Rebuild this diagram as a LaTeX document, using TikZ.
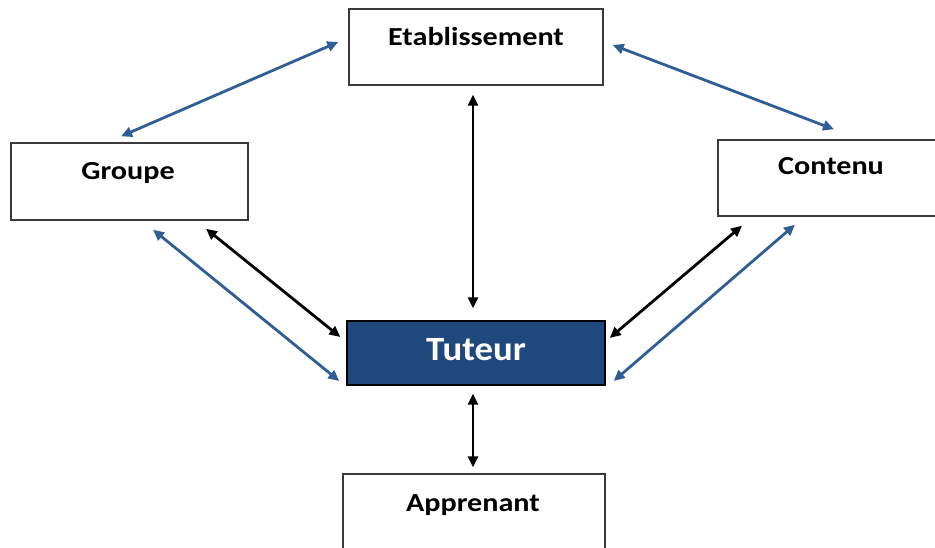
\documentclass[tikz,border=0pt]{standalone}
\usepackage{fontspec}
\setmainfont{Carlito}
\usetikzlibrary{arrows.meta}
\definecolor{linkblue}{HTML}{2F5D95}
\definecolor{tutorfill}{HTML}{1F497D}
\definecolor{boxline}{HTML}{3A3A3A}
\newcommand{\wide}[2]{\scalebox{#1}[1]{#2}}
\begin{document}
\begin{tikzpicture}[x=1pt,y=-1pt,
  box/.style={draw=boxline,line width=1.4pt,fill=white,inner sep=0pt},
  lbl/.style={anchor=base,inner sep=0pt,font=\fontsize{26}{30}\selectfont\bfseries},
  bluelink/.style={draw=linkblue,line width=2.8pt,{Triangle[length=11pt,width=10pt]}-{Triangle[length=11pt,width=10pt]}},
  blacklink/.style={draw=black,line width=2.8pt,{Triangle[length=11pt,width=10pt]}-{Triangle[length=11pt,width=10pt]}}]
\useasboundingbox (0,0) rectangle (935,547);
\clip (0,0) rectangle (935,547);

% boxes
\node[box,minimum width=254pt,minimum height=76pt] (etab) at (476,47) {};
\node[box,minimum width=237pt,minimum height=77pt] (grp) at (129.5,181.5) {};
\node[box,minimum width=242pt,minimum height=76pt] (cont) at (839,178) {};
\node[box,fill=tutorfill,draw=black,minimum width=258pt,minimum height=64pt] (tut) at (476,353) {};
\node[box,minimum width=262pt,minimum height=86pt] (app) at (474,517) {};

% labels
\node[lbl] (etabtxt) at (476,45) {\wide{1.16}{Etablissement}};
\node[lbl] (grptxt) at (128,179) {\wide{1.16}{Groupe}};
\node[lbl] (conttxt) at (831,174) {\wide{1.16}{Contenu}};
\node[lbl,text=white,font=\fontsize{34}{38}\selectfont\bfseries] (tuttxt) at (476,360) {\wide{1.08}{Tuteur}};
\node[lbl] (apptxt) at (473,511) {\wide{1.16}{Apprenant}};

% links
\draw[bluelink] ([shift={(-8.5,-6)}]grp.north) -- ([shift={(-10,-5)}]etab.west);
\draw[bluelink] ([shift={(9,-2)}]etab.east) -- ([shift={(-5,-10)}]cont.north);
\draw[blacklink] ([shift={(-3,9)}]etab.south) -- ([shift={(-3,-12)}]tut.north);
\draw[blacklink] ([shift={(-3,8)}]tut.south) -- ([shift={(-1,-6)}]app.north);
\draw[blacklink] ([shift={(76.5,8)}]grp.south) -- ([shift={(-6,-16)}]tut.west);
\draw[bluelink] ([shift={(23.5,9)}]grp.south) -- ([shift={(-7,28)}]tut.west);
\draw[blacklink] ([shift={(-97,9)}]cont.south) -- ([shift={(4,-15)}]tut.east);
\draw[bluelink] ([shift={(-44,8)}]cont.south) -- ([shift={(8,28)}]tut.east);
\end{tikzpicture}
\end{document}
